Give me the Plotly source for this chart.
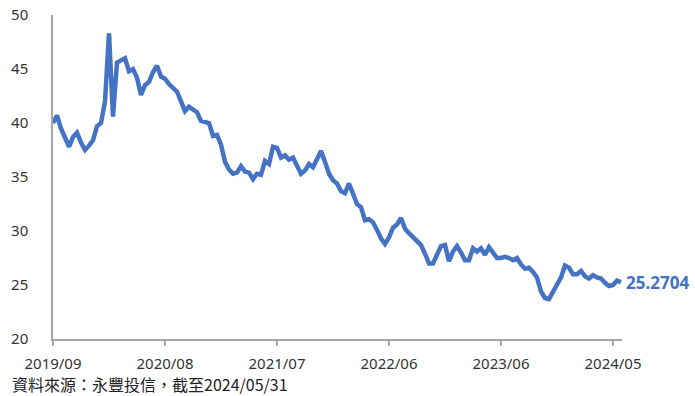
import plotly.graph_objects as go

# Fund NAV sampled on an evenly spaced trading-day index
nav = [
    40.0, 40.7, 39.5, 38.6, 37.8, 38.7, 39.1, 38.2, 37.5, 37.9,
    38.4, 39.7, 40.0, 42.0, 48.3, 40.6, 45.6, 45.8, 46.0, 44.8,
    45.0, 44.2, 42.6, 43.5, 43.8, 44.7, 45.3, 44.3, 44.1, 43.6,
    43.3, 42.9, 42.0, 41.1, 41.5, 41.3, 41.0, 40.2, 40.1, 40.0,
    38.8, 38.9, 38.0, 36.4, 35.7, 35.3, 35.4, 36.0, 35.5, 35.4,
    34.8, 35.3, 35.2, 36.5, 36.2, 37.8, 37.7, 36.8, 37.0, 36.6,
    36.8, 36.0, 35.3, 35.6, 36.2, 35.9, 36.7, 37.4, 36.4, 35.3,
    34.7, 34.4, 33.7, 33.5, 34.4, 33.3, 32.5, 32.2, 31.0, 31.1,
    30.8, 30.1, 29.3, 28.8, 29.4, 30.3, 30.6, 31.2, 30.2, 29.8,
    29.4, 29.1, 28.7, 27.9, 27.0, 27.0, 27.7, 28.6, 28.7, 27.2,
    28.1, 28.6, 28.0, 27.3, 27.3, 28.4, 28.1, 28.4, 27.8, 28.5,
    28.0, 27.5, 27.5, 27.6, 27.5, 27.3, 27.5, 26.9, 26.5, 26.6,
    26.2, 25.7, 24.4, 23.8, 23.7, 24.4, 25.2, 25.7, 26.8, 26.6,
    26.0, 26.0, 26.3, 25.8, 25.6, 25.9, 25.7, 25.6, 25.2, 24.9,
    25.0, 25.4, 25.2704,
]
day_index = list(range(len(nav)))

tick_positions = [0, 28, 56, 84, 112, 140]
tick_labels = ["2019/09", "2020/08", "2021/07", "2022/06", "2023/06", "2024/05"]
y_ticks = [20, 25, 30, 35, 40, 45, 50]

latest_label = "25.2704"
line_color = "#4472C4"
axis_color = "#A6A6A6"
text_color = "#333333"
source_note = "資料來源：永豐投信，截至2024/05/31"

fig = go.Figure()
fig.add_trace(go.Scatter(
    x=day_index, y=nav, mode="lines",
    line=dict(color=line_color, width=4.5, shape="linear"),
    hoverinfo="skip", showlegend=False, cliponaxis=False,
))

fig.add_annotation(
    x=day_index[-1], y=nav[-1], text=f"<b>{latest_label}</b>",
    showarrow=False, xanchor="left", yanchor="middle", xshift=3,
    font=dict(family="Noto Sans", size=17, color=line_color),
)

fig.add_annotation(
    x=0, y=0, xref="paper", yref="paper", text=source_note,
    showarrow=False, xanchor="left", yanchor="middle",
    xshift=-43, yshift=-45,
    font=dict(family="Noto Sans CJK TC", size=16, color="#222222"),
)

fig.update_layout(
    width=695, height=396,
    margin=dict(l=53, r=73, t=15, b=57, autoexpand=False),
    paper_bgcolor="white", plot_bgcolor="white",
    font=dict(family="Noto Sans", size=15, color=text_color),
    xaxis=dict(
        range=[0, 142.25], tickmode="array",
        tickvals=tick_positions, ticktext=tick_labels,
        showgrid=False, zeroline=False, automargin=False,
        showline=True, linecolor=axis_color, linewidth=1.5,
        ticks="outside", ticklen=5, tickcolor=axis_color, tickwidth=1.5,
        ticklabelstandoff=5,
        tickfont=dict(family="Noto Sans", size=15, color=text_color),
    ),
    yaxis=dict(
        range=[20, 50], tickmode="array", tickvals=y_ticks,
        showgrid=False, zeroline=False, automargin=False,
        showline=True, linecolor=axis_color, linewidth=1.5,
        ticks="", ticklabelstandoff=20,
        tickfont=dict(family="Noto Sans", size=15, color=text_color),
    ),
)

fig.write_html("out.html")
